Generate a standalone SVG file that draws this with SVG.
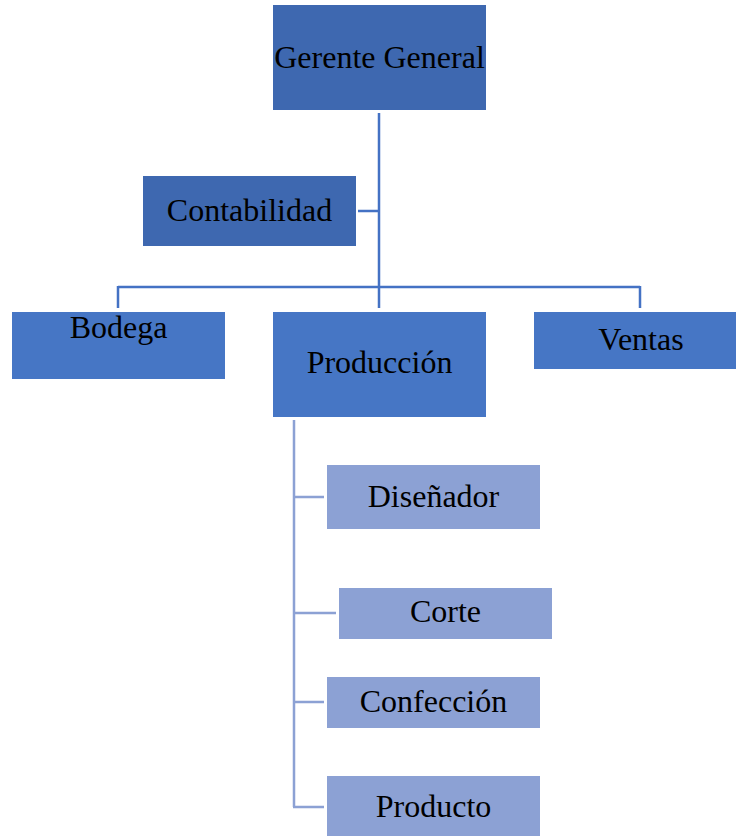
<svg xmlns="http://www.w3.org/2000/svg" width="736" height="836" viewBox="0 0 736 836">
<style>
text{font-family:"Liberation Serif","Times New Roman",serif;font-size:32px;fill:#000;text-anchor:middle}
.dark{fill:#3E68B0}
.mid{fill:#4676C5}
.light{fill:#8CA1D4}
.c1{stroke:#4472C4;stroke-width:2.5;fill:none}
.c2{stroke:#8CA1D4;stroke-width:2.5;fill:none}
</style>
<rect width="736" height="836" fill="#fff"/>
<g id="connectors">
<path class="c1" d="M379 113V308M358 211H379M118 287H640M118 286V308M640 286V308"/>
<path class="c2" d="M294 420V807M293 497H324M293 613H336M293 702H324M293 807H324"/>
</g>
<g id="gerente"><rect class="dark" x="273" y="5" width="213" height="105"/><text x="379.5" y="68">Gerente General</text></g>
<g id="contabilidad"><rect class="dark" x="143" y="176" width="213" height="70"/><text x="249.5" y="221">Contabilidad</text></g>
<g id="bodega"><rect class="mid" x="12" y="312" width="213" height="67"/><text x="118.5" y="338">Bodega</text></g>
<g id="produccion"><rect class="mid" x="273" y="312" width="213" height="105"/><text x="379.5" y="373">Producción</text></g>
<g id="ventas"><rect class="mid" x="534" y="312" width="202" height="57"/><text x="641" y="350">Ventas</text></g>
<g id="disenador"><rect class="light" x="327" y="465" width="213" height="64"/><text x="433.5" y="507">Diseñador</text></g>
<g id="corte"><rect class="light" x="339" y="588" width="213" height="51"/><text x="445.5" y="622">Corte</text></g>
<g id="confeccion"><rect class="light" x="327" y="677" width="213" height="51"/><text x="433.5" y="712">Confección</text></g>
<g id="producto"><rect class="light" x="327" y="776" width="213" height="60"/><text x="433.5" y="817">Producto</text></g>
</svg>
